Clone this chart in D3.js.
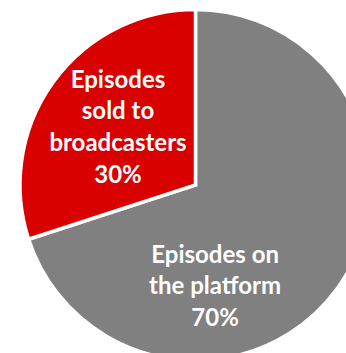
<!DOCTYPE html>
<html>
<head>
<meta charset="utf-8">
<script src="https://cdn.jsdelivr.net/npm/d3@7"></script>
<style>
  body { margin: 0; background: #fff; }
</style>
</head>
<body>
<div id="plot"></div>
<script>
// data
const categories = ["Episodes on the platform", "Episodes sold to broadcasters"];
const values = [70, 30];
const labelLines = [["Episodes on", "the platform", "70%"], ["Episodes", "sold to", "broadcasters", "30%"]];
const colors = ["#808080", "#D90000"];
// where each label sits: angle (deg, clockwise from top) and fraction of radius
const labelAngle = [169, 307];
const labelRadius = [0.585, 0.553];

const w = 346;
const h = 353;
const cx = 195.5;
const cy = 185;
const radius = 175.5;
const lineH = 31.7;

const svg = d3.select("div#plot")
    .append("svg")
    .attr("width", w)
    .attr("height", h);

const pie = d3.pie()
    .sort(null)
    .value(d => d);

const arc = d3.arc()
    .innerRadius(0)
    .outerRadius(radius);

const g = svg.append("g")
    .attr("transform", `translate(${cx}, ${cy})`);

g.selectAll("path")
    .data(pie(values))
  .enter().append("path")
    .attr("d", arc)
    .attr("fill", (d, i) => colors[i])
    .attr("stroke", "#fff")
    .attr("stroke-width", 3.5)
    .attr("stroke-linejoin", "miter");

const labels = g.selectAll("text")
    .data(labelLines)
  .enter().append("text")
    .attr("text-anchor", "middle")
    .attr("fill", "#fff")
    .style("font-family", "Lato, 'Open Sans', sans-serif")
    .style("font-weight", "bold")
    .style("font-size", "24px")
    .each(function(lines, i) {
      const p = d3.pointRadial(labelAngle[i] * Math.PI / 180, labelRadius[i] * radius);
      const t = d3.select(this);
      lines.forEach((s, j) => {
        t.append("tspan")
          .attr("x", p[0])
          .attr("y", p[1] + (j - (lines.length - 1) / 2) * lineH + 8.5)
          .text(s);
      });
    });
</script>
</body>
</html>
